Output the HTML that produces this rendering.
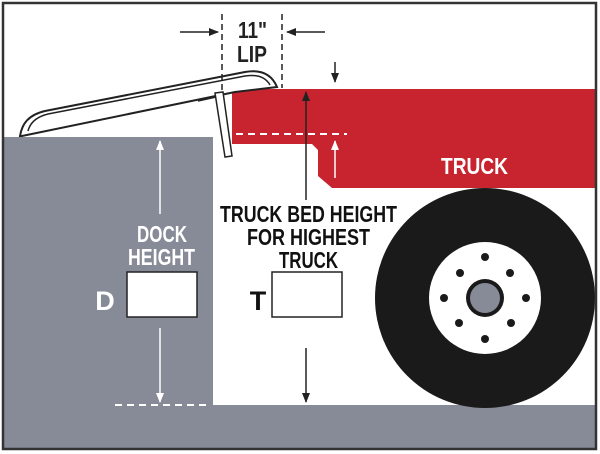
<!DOCTYPE html>
<html><head><style>
html,body{margin:0;padding:0;background:#fff;}
svg{display:block;}
text{font-family:"Liberation Sans Narrow","Liberation Sans",sans-serif;font-weight:bold;}
</style></head><body>
<svg width="600" height="454" viewBox="0 0 600 454" xmlns="http://www.w3.org/2000/svg">
<defs>
<marker id="ab" markerWidth="10" markerHeight="10" refX="9" refY="5" orient="auto" markerUnits="userSpaceOnUse"><path d="M0,1 L10,5 L0,9 Z" fill="#222"/></marker>
<marker id="aw" markerWidth="10" markerHeight="10" refX="9" refY="5" orient="auto" markerUnits="userSpaceOnUse"><path d="M0,1 L10,5 L0,9 Z" fill="#fff"/></marker>
</defs>
<rect x="0" y="0" width="600" height="454" fill="#fff"/>
<rect x="4" y="137" width="209" height="270" fill="#878b98"/>
<rect x="4" y="405" width="592" height="44" fill="#878b98"/>
<path d="M232,89 L596,89 L596,188 L332,188 L318,176 L318,150 L312,144 L232,144 Z" fill="#c8242f"/>
<circle cx="485" cy="298" r="110" fill="#1a1a1a"/>
<circle cx="485" cy="298" r="56" fill="#fff"/>
<circle cx="485" cy="298" r="19" fill="#1a1a1a"/>
<circle cx="485" cy="298" r="15" fill="#878b98"/>
<g fill="#1a1a1a">
<circle cx="485" cy="257" r="4"/><circle cx="485" cy="339" r="4"/>
<circle cx="444" cy="298" r="4"/><circle cx="526" cy="298" r="4"/>
<circle cx="460" cy="273" r="4"/><circle cx="510" cy="273" r="4"/>
<circle cx="459" cy="323" r="4"/><circle cx="511" cy="323" r="4"/>
</g>
<path d="M20,136 C22,124 28,115 45,111 L245,72 C262,69 272,75 277,87 L235,92 L22,136 Z" fill="#fff" stroke="#222" stroke-width="2"/>
<path d="M28,131 C30,123 36,117 48,114 L245,76 C258,74 266,78 270,85" fill="none" stroke="#222" stroke-width="1.5"/>
<path d="M198,101 L216,97 L220,98" fill="none" stroke="#222" stroke-width="1.5"/>
<path d="M215,93 L223,92 L232,156 L225,157 Z" fill="#fff" stroke="#222" stroke-width="1.5"/>
<line x1="222" y1="14" x2="222" y2="92" stroke="#222" stroke-width="1.5" stroke-dasharray="6,4"/>
<line x1="282" y1="14" x2="282" y2="88" stroke="#222" stroke-width="1.5" stroke-dasharray="6,4"/>
<line x1="180" y1="32" x2="218" y2="32" stroke="#222" stroke-width="1.5" marker-end="url(#ab)"/>
<line x1="325" y1="32" x2="287" y2="32" stroke="#222" stroke-width="1.5" marker-end="url(#ab)"/>
<text x="238" y="38" font-size="23" textLength="29" lengthAdjust="spacingAndGlyphs" fill="#222">11"</text>
<text x="237" y="62" font-size="23" textLength="30" lengthAdjust="spacingAndGlyphs" fill="#222">LIP</text>
<line x1="335" y1="62" x2="335" y2="82" stroke="#222" stroke-width="1.5" marker-end="url(#ab)"/>
<line x1="236" y1="134" x2="347" y2="134" stroke="#fff" stroke-width="2" stroke-dasharray="7,5"/>
<line x1="335" y1="178" x2="335" y2="141" stroke="#fff" stroke-width="1.5" marker-end="url(#aw)"/>
<line x1="306" y1="200" x2="306" y2="92" stroke="#222" stroke-width="1.5" marker-end="url(#ab)"/>
<line x1="306" y1="348" x2="306" y2="402" stroke="#222" stroke-width="1.5" marker-end="url(#ab)"/>
<text x="441" y="174" font-size="23" textLength="67" lengthAdjust="spacingAndGlyphs" fill="#fff">TRUCK</text>
<text x="220" y="222" font-size="23" textLength="177" lengthAdjust="spacingAndGlyphs" fill="#111">TRUCK BED HEIGHT</text>
<text x="247" y="245" font-size="23" textLength="123" lengthAdjust="spacingAndGlyphs" fill="#111">FOR HIGHEST</text>
<text x="279" y="268" font-size="23" textLength="59" lengthAdjust="spacingAndGlyphs" fill="#111">TRUCK</text>
<rect x="272" y="272" width="70" height="45" fill="#fff" stroke="#222" stroke-width="1.5"/>
<text x="258" y="310" font-size="27" text-anchor="middle" fill="#111">T</text>
<line x1="160" y1="214" x2="160" y2="141" stroke="#fff" stroke-width="1.5" marker-end="url(#aw)"/>
<line x1="160" y1="328" x2="160" y2="402" stroke="#fff" stroke-width="1.5" marker-end="url(#aw)"/>
<line x1="115" y1="405" x2="210" y2="405" stroke="#fff" stroke-width="2" stroke-dasharray="7,5"/>
<text x="137" y="242" font-size="23" textLength="50" lengthAdjust="spacingAndGlyphs" fill="#fff">DOCK</text>
<text x="128" y="265" font-size="23" textLength="67" lengthAdjust="spacingAndGlyphs" fill="#fff">HEIGHT</text>
<rect x="127" y="272" width="70" height="45" fill="#fff" stroke="#222" stroke-width="1.5"/>
<text x="105" y="310" font-size="27" text-anchor="middle" fill="#fff">D</text>
<rect x="3" y="3" width="593" height="446" fill="none" stroke="#333" stroke-width="2.5"/>
</svg>
</body></html>
